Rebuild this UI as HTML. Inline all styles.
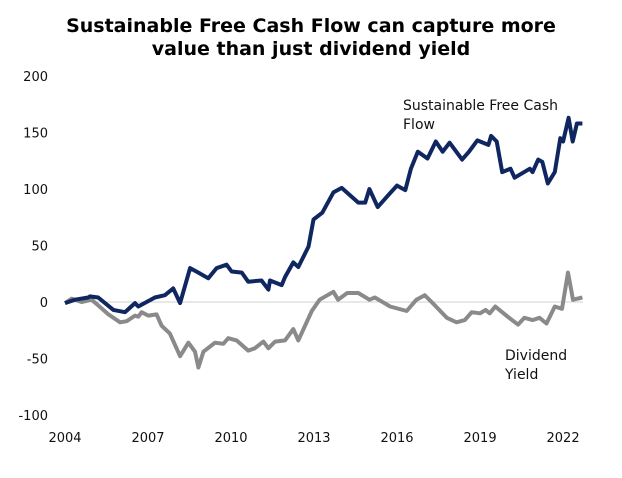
<!DOCTYPE html>
<html><head><meta charset="utf-8"><style>
body{margin:0;background:#fff;}
svg text{font-family:"DejaVu Sans","Liberation Sans",sans-serif;}
</style></head><body>
<svg id="chart" width="622" height="473" viewBox="0 0 622 473" xmlns="http://www.w3.org/2000/svg">
<text x="311" y="32" text-anchor="middle" font-size="19" font-weight="bold" fill="#000">Sustainable Free Cash Flow can capture more</text>
<text x="311" y="55" text-anchor="middle" font-size="19" font-weight="bold" fill="#000">value than just dividend yield</text>
<g id="yaxis"></g>
<g id="xaxis"></g>
<line id="zero" stroke="#d0d0d0" stroke-width="1"/>
<path id="gray" fill="none" stroke="#8a8a8a" stroke-width="4" stroke-linejoin="round"/>
<path id="blue" fill="none" stroke="#0f2660" stroke-width="4" stroke-linejoin="round"/>
<text x="403" y="110" font-size="14" fill="#111">Sustainable Free Cash</text>
<text x="403" y="129" font-size="14" fill="#111">Flow</text>
<text x="505" y="360" font-size="14" fill="#111">Dividend</text>
<text x="505" y="379" font-size="14" fill="#111">Yield</text>
</svg>
<script>
const yTicks=[200,150,100,50,0,-50,-100];
const xTicks=[2004,2007,2010,2013,2016,2019,2022];
const blueX=[2004.0,2004.36,2004.84,2004.9,2005.2,2005.75,2006.17,2006.53,2006.65,2007.25,2007.61,2007.91,2008.16,2008.52,2008.82,2009.18,2009.48,2009.84,2010.02,2010.39,2010.62,2011.1,2011.35,2011.41,2011.83,2011.95,2012.25,2012.43,2012.8,2012.98,2013.3,2013.7,2014.0,2014.6,2014.85,2015.0,2015.3,2015.7,2016.0,2016.3,2016.5,2016.75,2017.1,2017.4,2017.65,2017.9,2018.35,2018.6,2018.9,2019.3,2019.4,2019.6,2019.8,2020.1,2020.25,2020.8,2020.9,2021.1,2021.25,2021.45,2021.7,2021.9,2022.0,2022.2,2022.35,2022.5,2022.7];
const blueY=[-1,2,4,5,4,-7,-9,-1,-4,4,6,12,-1,30,26,21,30,33,27,26,18,19,11,19,15,22,35,31,49,73,79,97,101,88,88,100,84,95,103,99,118,133,127,142,133,141,126,133,143,139,147,142,115,118,110,118,115,126,124,105,115,145,142,163,142,158,158];
const grayX=[2004.0,2004.24,2004.6,2004.96,2005.2,2005.57,2005.99,2006.23,2006.53,2006.65,2006.77,2007.01,2007.31,2007.49,2007.79,2008.16,2008.46,2008.7,2008.82,2009.0,2009.42,2009.72,2009.9,2010.2,2010.62,2010.86,2011.17,2011.35,2011.59,2011.95,2012.25,2012.43,2012.92,2013.2,2013.7,2013.87,2014.2,2014.6,2015.0,2015.2,2015.75,2016.35,2016.7,2017.0,2017.25,2017.8,2018.15,2018.45,2018.7,2019.0,2019.2,2019.35,2019.55,2019.7,2020.0,2020.37,2020.6,2020.9,2021.15,2021.4,2021.7,2021.96,2022.18,2022.36,2022.7];
const grayY=[-1,3,0,2,-3,-11,-18,-17,-12,-13,-9,-12,-11,-21,-28,-48,-36,-44,-58,-44,-36,-37,-32,-34,-43,-41,-35,-41,-35,-34,-24,-34,-8,2,9,2,8,8,2,4,-4,-8,2,6,0,-14,-18,-16,-9,-10,-7,-10,-4,-7,-13,-20,-14,-16,-14,-19,-4,-6,26,2,4];
const X0=65,X1=583,Y0=302;
function sx(yr){return X0+(yr-2004)*27.67;}
function sy(v){return Y0-v*1.13;}
const NS="http://www.w3.org/2000/svg";
const ya=document.getElementById('yaxis');
yTicks.forEach(v=>{const t=document.createElementNS(NS,'text');


t.setAttribute('x',48);t.setAttribute('y',sy(v)+5);t.setAttribute('text-anchor','end');t.setAttribute('font-size','13');t.setAttribute('fill','#111');t.textContent=v;ya.appendChild(t);});
const xa=document.getElementById('xaxis');
xTicks.forEach(v=>{const t=document.createElementNS(NS,'text');


t.setAttribute('x',sx(v));t.setAttribute('y',442);t.setAttribute('text-anchor','middle');t.setAttribute('font-size','13');t.setAttribute('fill','#111');t.textContent=v;xa.appendChild(t);});
const z=document.getElementById('zero');
z.setAttribute('x1',X0);z.setAttribute('x2',X1);z.setAttribute('y1',sy(0));z.setAttribute('y2',sy(0));
function path(xs,ys){return xs.map((x,i)=>(i?'L':'M')+sx(x).toFixed(1)+' '+sy(ys[i]).toFixed(1)).join(' ');}
document.getElementById('blue').setAttribute('d',path(blueX,blueY));
document.getElementById('gray').setAttribute('d',path(grayX,grayY));
</script>
</body></html>
